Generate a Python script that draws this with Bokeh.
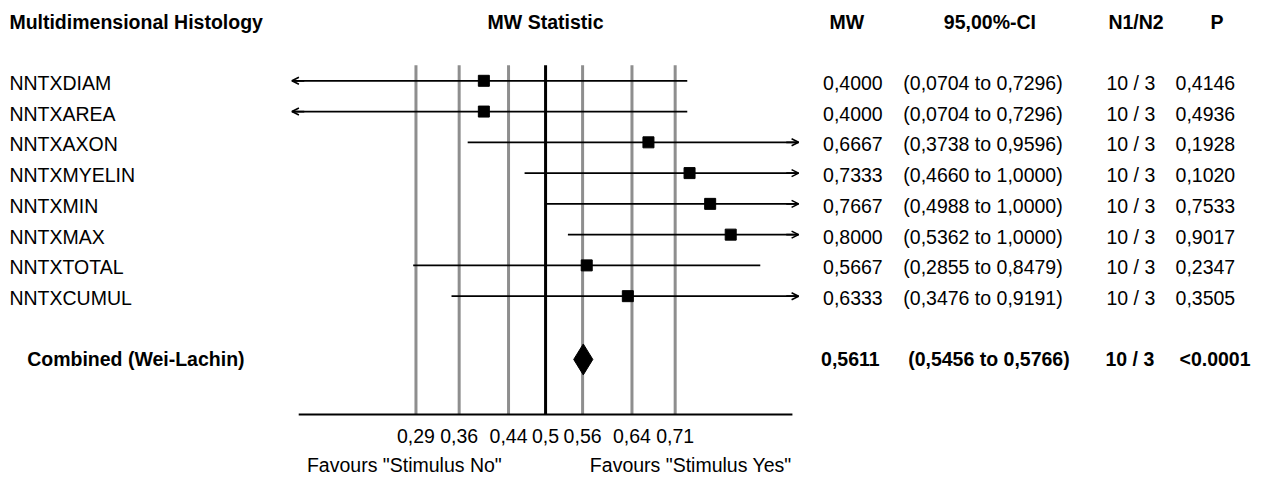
from bokeh.plotting import figure
from bokeh.models import Range1d, ColumnDataSource, Arrow, OpenHead
from bokeh.core.properties import value
from bokeh.embed import file_html
from bokeh.resources import INLINE

# ---------------- data ----------------
outcomes = ["NNTXDIAM", "NNTXAREA", "NNTXAXON", "NNTXMYELIN",
            "NNTXMIN", "NNTXMAX", "NNTXTOTAL", "NNTXCUMUL"]
mw = [0.4000, 0.4000, 0.6667, 0.7333, 0.7667, 0.8000, 0.5667, 0.6333]
ci_low = [0.0704, 0.0704, 0.3738, 0.4660, 0.4988, 0.5362, 0.2855, 0.3476]
ci_high = [0.7296, 0.7296, 0.9596, 1.0000, 1.0000, 1.0000, 0.8479, 0.9191]
n1 = [10, 10, 10, 10, 10, 10, 10, 10]
n2 = [3, 3, 3, 3, 3, 3, 3, 3]
p_values = [0.4146, 0.4936, 0.1928, 0.1020, 0.7533, 0.9017, 0.2347, 0.3505]

combined_label = "Combined (Wei-Lachin)"
combined_mw = 0.5611
combined_low = 0.5456
combined_high = 0.5766
combined_n1 = 10
combined_n2 = 3
combined_p = "<0.0001"

ticks = [0.29, 0.36, 0.44, 0.5, 0.56, 0.64, 0.71]
tick_labels = ["0,29", "0,36", "0,44", "0,5", "0,56", "0,64", "0,71"]
null_value = 0.5
axis_min, axis_max = 0.1, 0.9

headers = ["Multidimensional Histology", "MW Statistic", "MW", "95,00%-CI", "N1/N2", "P"]
favours = ['Favours "Stimulus No"', 'Favours "Stimulus Yes"']

# ---------------- layout (reference canvas units 1274 x 492) ----------------
W, H = 1258, 476
REF_W, REF_H = 1274.0, 492.0
PX_PER_UNIT = 625.0        # reference px per MW unit
NULL_PX = 552.0            # reference px of the null line
ARROW_LO, ARROW_HI = 0.089, 0.91
ROW0, ROW_STEP = 83.0, 31.8
COMB_Y = 371.0
GRID_TOP, BASE_Y = 67.0, 428.0
HEADER_Y = 22.0
TICK_Y = 450.0
FAV_Y = 491.0
TXT_DY = 2.0
FONT = value("Liberation Sans")
FS = "19.5px"


def sx(X):
    """reference x pixel -> data x"""
    return null_value + (X - NULL_PX) / PX_PER_UNIT


def fmt(v):
    return f"{v:.4f}".replace(".", ",")


p = figure(width=W, height=H,
           x_range=Range1d(sx(0), sx(REF_W)),
           y_range=Range1d(REF_H, 0),
           output_backend="svg", toolbar_location=None, min_border=0)
p.axis.visible = False
p.grid.visible = False
p.outline_line_color = None
p.background_fill_color = "white"
p.border_fill_color = "white"

rows = [ROW0 + ROW_STEP * i for i in range(len(outcomes))]

# grid lines at ticks
grid_x = [t for t in ticks if t != null_value]
p.segment(x0=grid_x, y0=[GRID_TOP] * len(grid_x), x1=grid_x, y1=[BASE_Y] * len(grid_x),
          line_color="#8e8e8e", line_width=3)
# null line
p.segment(x0=[null_value], y0=[GRID_TOP], x1=[null_value], y1=[BASE_Y],
          line_color="black", line_width=3)
# baseline axis
p.segment(x0=[axis_min], y0=[BASE_Y], x1=[axis_max], y1=[BASE_Y],
          line_color="black", line_width=2)

# CI lines (clipped)
lo_c = [max(l, ARROW_LO) for l in ci_low]
hi_c = [min(h, ARROW_HI) for h in ci_high]
p.segment(x0=lo_c, y0=rows, x1=hi_c, y1=rows, line_color="black", line_width=1.8)

# arrow heads for clipped intervals
ax0, ax1, ay = [], [], []
for l, h, y in zip(ci_low, ci_high, rows):
    if l < ARROW_LO:
        ax0.append(ARROW_LO + 0.02); ax1.append(ARROW_LO); ay.append(y)
    if h > ARROW_HI:
        ax0.append(ARROW_HI - 0.02); ax1.append(ARROW_HI); ay.append(y)
arrow_src = ColumnDataSource(dict(x0=ax0, x1=ax1, y=ay))
p.add_layout(Arrow(x_start="x0", y_start="y", x_end="x1", y_end="y", source=arrow_src,
                   line_width=1.8, line_color="black",
                   end=OpenHead(size=7, line_width=1.6, line_color="black")))

# point estimates
p.scatter(x=mw, y=rows, marker="square", size=11, fill_color="black", line_color="black")

# combined diamond
p.patch(x=[combined_low, combined_mw, combined_high, combined_mw],
        y=[COMB_Y, COMB_Y - 16, COMB_Y, COMB_Y + 16],
        fill_color="black", line_color="black", line_width=1)

# ---------------- texts ----------------
ty = [r + TXT_DY for r in rows]
common = dict(text_font=FONT, text_font_size=FS, text_color="black", text_baseline="middle")

p.text(x=[sx(9)] * len(outcomes), y=ty, text=outcomes, text_align="left", **common)
p.text(x=[sx(833)] * len(outcomes), y=ty, text=[fmt(v) for v in mw], text_align="left", **common)
p.text(x=[sx(995)] * len(outcomes), y=ty,
       text=[f"({fmt(l)} to {fmt(h)})" for l, h in zip(ci_low, ci_high)],
       text_align="center", **common)
p.text(x=[sx(1120)] * len(outcomes), y=ty,
       text=[f"{a} / {b}" for a, b in zip(n1, n2)], text_align="left", **common)
p.text(x=[sx(1190)] * len(outcomes), y=ty, text=[fmt(v) for v in p_values],
       text_align="left", **common)

# headers
bold = dict(common, text_font_style="bold")
p.text(x=[sx(9)], y=[HEADER_Y], text=[headers[0]], text_align="left", **bold)
p.text(x=[null_value, sx(857), sx(1002), sx(1150), sx(1232)], y=[HEADER_Y] * 5,
       text=headers[1:], text_align="center", **bold)

# combined row
cy = COMB_Y
p.text(x=[sx(27)], y=[cy], text=[combined_label], text_align="left", **bold)
p.text(x=[sx(831)], y=[cy], text=[fmt(combined_mw)], text_align="left", **bold)
p.text(x=[sx(1001)], y=[cy], text=[f"({fmt(combined_low)} to {fmt(combined_high)})"],
       text_align="center", **bold)
p.text(x=[sx(1119)], y=[cy], text=[f"{combined_n1} / {combined_n2}"], text_align="left", **bold)
p.text(x=[sx(1194)], y=[cy], text=[combined_p], text_align="left", **bold)

# tick labels
p.text(x=ticks, y=[TICK_Y] * len(ticks), text=tick_labels, text_align="center", **common)

# favours
fav = dict(common, text_baseline="bottom")
p.text(x=[sx(409), sx(699)], y=[FAV_Y] * 2, text=favours, text_align="center", **fav)

open("out.html", "w").write(file_html(p, INLINE))
